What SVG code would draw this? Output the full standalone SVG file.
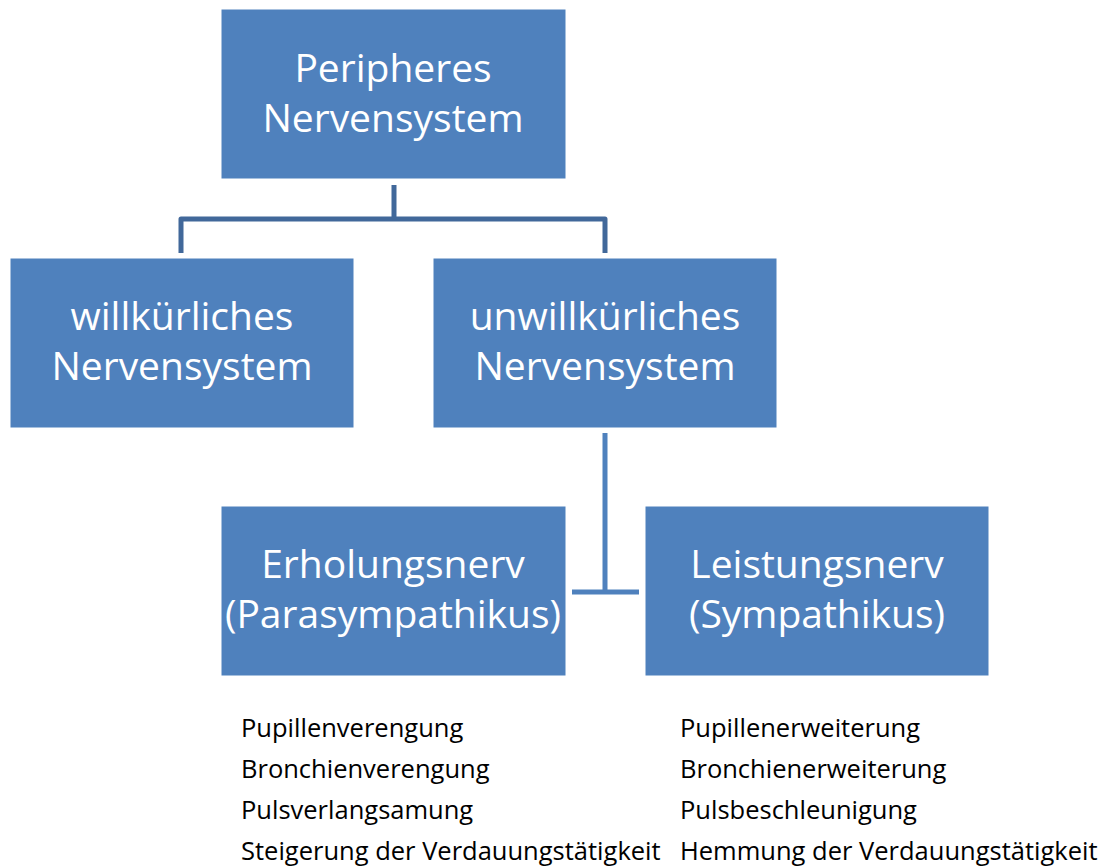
<svg xmlns="http://www.w3.org/2000/svg" width="1108" height="868" viewBox="0 0 1108 868">
<style>
.box{fill:#4F81BD;stroke:#FFFFFF;stroke-width:1}
.bt{fill:#FFFFFF;font-family:"Open Sans","Liberation Sans",sans-serif;font-size:39px;text-anchor:middle}
.lt{fill:#000000;font-family:"Open Sans","Liberation Sans",sans-serif;font-size:25.5px}
.c1{fill:none;stroke:#41689A;stroke-width:5;stroke-linejoin:round}
.c2{fill:none;stroke:#4F81BD;stroke-width:5}
</style>
<rect width="1108" height="868" fill="#FFFFFF"/>
<g id="connectors">
<path class="c1" d="M394 185 V219 M181 253 V219 H605 V253"/>
<path class="c2" d="M605 433 V592 M572 592 H639"/>
</g>
<g id="n-peripheres">
<rect class="box" x="221" y="9" width="345" height="170"/>
<text class="bt" x="393" y="82">Peripheres</text>
<text class="bt" x="393" y="132">Nervensystem</text>
</g>
<g id="n-willkuerlich">
<rect class="box" x="10" y="258" width="344" height="170"/>
<text class="bt" x="182" y="330">willkürliches</text>
<text class="bt" x="182" y="380">Nervensystem</text>
</g>
<g id="n-unwillkuerlich">
<rect class="box" x="433" y="258" width="344" height="170"/>
<text class="bt" x="605" y="330">unwillkürliches</text>
<text class="bt" x="605" y="380">Nervensystem</text>
</g>
<g id="n-parasympathikus">
<rect class="box" x="221" y="506" width="345" height="170"/>
<text class="bt" x="393" y="578">Erholungsnerv</text>
<text class="bt" x="393" y="628">(Parasympathikus)</text>
</g>
<g id="n-sympathikus">
<rect class="box" x="645" y="506" width="344" height="170"/>
<text class="bt" x="817" y="578">Leistungsnerv</text>
<text class="bt" x="817" y="628">(Sympathikus)</text>
</g>
<g id="list-parasympathikus">
<text class="lt" x="241" y="737">Pupillenverengung</text>
<text class="lt" x="241" y="778">Bronchienverengung</text>
<text class="lt" x="241" y="819">Pulsverlangsamung</text>
<text class="lt" x="241" y="860">Steigerung der Verdauungstätigkeit</text>
</g>
<g id="list-sympathikus">
<text class="lt" x="680" y="737">Pupillenerweiterung</text>
<text class="lt" x="680" y="778">Bronchienerweiterung</text>
<text class="lt" x="680" y="819">Pulsbeschleunigung</text>
<text class="lt" x="680" y="860">Hemmung der Verdauungstätigkeit</text>
</g>
</svg>
